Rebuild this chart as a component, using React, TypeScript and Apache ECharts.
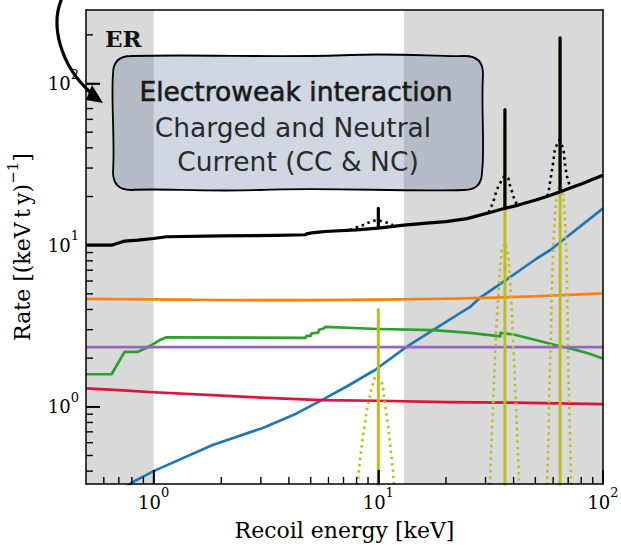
import React, { useEffect, useRef, useState } from "react";
import * as echarts from "echarts";

// ---- axes ----
const X_MIN = 0.5;
const X_MAX = 100;
const Y_MIN = 0.333;
const Y_MAX = 285;
const majorTicks = [1, 10, 100];
const xMinorTicks = [0.6, 0.7, 0.8, 0.9, 2, 3, 4, 5, 6, 7, 8, 9, 20, 30, 40, 50, 60, 70, 80, 90];
const yMinorTicks = [0.4, 0.5, 0.6, 0.7, 0.8, 0.9, 2, 3, 4, 5, 6, 7, 8, 9, 20, 30, 40, 50, 60, 70, 80, 90, 200];
const shadedBands: [number, number][] = [
  [0.5, 1],
  [13, 100],
];

// ---- ER background components: [recoil energy keV, rate /(keV t y)] ----
const twoNuBB: [number, number][] = [
  [0.72, 0.3], [0.8, 0.34], [1.0, 0.4], [1.83, 0.58], [3.06, 0.74], [4.33, 0.91], [5.6, 1.1],
  [7.4, 1.36], [9.66, 1.69], [13.3, 2.34], [17.5, 2.98], [25.6, 4.15], [28.2, 4.7], [36, 5.93],
  [50.7, 8.27], [58.1, 9.3], [100, 16.9],
];
const radonLead: [number, number][] = [
  [0.5, 4.65], [1, 4.62], [2, 4.58], [5, 4.57], [10, 4.6], [20, 4.66], [30, 4.72], [50, 4.83],
  [70, 4.92], [100, 5.03],
];
const solarNu: [number, number][] = [
  [0.5, 1.59], [0.65, 1.59], [0.743, 2.19], [0.851, 2.19], [0.93, 2.32], [1.0, 2.45], [1.06, 2.58],
  [1.14, 2.69], [4.73, 2.67], [4.8, 2.75], [5.0, 2.75], [5.05, 2.85], [5.4, 2.88], [5.45, 3.0],
  [5.7, 3.05], [5.8, 3.12], [10, 3.03], [17.5, 2.98], [25.6, 2.87], [34.9, 2.73], [35.0, 2.87],
  [40, 2.8], [50.7, 2.58], [64.4, 2.37], [71.3, 2.3], [85, 2.15], [100, 1.99],
];
const krypton: [number, number][] = [
  [0.5, 2.34], [100, 2.34],
];
const materials: [number, number][] = [
  [0.5, 1.3], [0.7, 1.27], [1, 1.23], [1.83, 1.18], [3, 1.14], [5.6, 1.1], [10, 1.09], [20, 1.07],
  [40, 1.06], [100, 1.04],
];
// 124Xe double electron capture lines (LL, KL, KK)
const ececLines: [number, number][] = [
  [10, 0.01], [10, 4.0], [10, 0.01], [36.6, 0.01], [36.6, 52], [36.6, 0.01],
  [64.4, 0.01], [64.4, 171], [64.4, 0.01],
];
const ececSmearedLL: [number, number][] = [
  [7.95, 0.3], [8.1, 0.344], [8.22, 0.426], [8.38, 0.527], [8.53, 0.652], [8.73, 0.808],
  [8.92, 0.977], [9.13, 1.127], [9.29, 1.268], [9.61, 1.5], [10, 1.55], [10.47, 1.36],
  [10.64, 1.1], [11.02, 0.793], [11.32, 0.566], [11.61, 0.406], [11.8, 0.3],
];
const ececSmearedKL: [number, number][] = [
  [31.2, 0.3], [31.4, 0.352], [31.9, 0.596], [32.5, 1.1], [33.0, 1.945], [33.6, 3.29], [34.2, 4.79],
  [34.8, 7.0], [35.4, 9.3], [36.6, 10.3], [37.9, 8.67], [38.5, 6.37], [39.2, 4.15], [39.8, 2.48],
  [40.6, 1.4], [41.3, 0.79], [42.0, 0.449], [42.4, 0.3],
];
const ececSmearedKK: [number, number][] = [
  [56.2, 0.3], [56.5, 0.352], [57.1, 0.594], [57.5, 1.05], [58.1, 1.77], [58.7, 2.98], [59.1, 4.79],
  [59.7, 7.33], [60.5, 12], [61.4, 17], [62.6, 21.5], [64.4, 23.5], [66.2, 21.5], [67.3, 17],
  [68.2, 12], [68.9, 7.3], [69.3, 4.8], [69.6, 3.28], [70.0, 1.94], [70.6, 1.15], [71.3, 0.65],
  [72.0, 0.37], [72.3, 0.3],
];
const total: [number, number][] = [
  [0.5, 10.0], [0.65, 10.0], [0.743, 10.6], [0.851, 10.75], [1.0, 11.0], [1.14, 11.27], [2.0, 11.4],
  [3.5, 11.5], [4.73, 11.6], [4.85, 11.8], [5.05, 11.9], [5.45, 12.05], [5.8, 12.15], [8.0, 12.45],
  [10, 12.75], [10, 16.9], [10, 12.75], [13, 13.3], [16.4, 13.7], [20, 14.0], [24.8, 14.6],
  [32.3, 16.1], [36.6, 16.9], [36.6, 69], [36.6, 16.9], [42, 17.7], [50.7, 19.1], [58, 20.3],
  [64.4, 21.4], [64.4, 192], [64.4, 21.4], [80, 23.9], [100, 27.1],
];
const totalSmearedLL: [number, number][] = [
  [7.47, 12.4], [8.13, 13.0], [8.7, 13.4], [9.34, 14.1], [10, 14.3], [10.3, 14.1], [10.87, 13.8],
  [11.63, 13.3],
];
const totalSmearedKL: [number, number][] = [
  [31.0, 15.9], [32.5, 18.5], [33.6, 21.9], [34.8, 24.1], [36.1, 26.4], [36.6, 26.8], [37.9, 25.9],
  [38.5, 23.5], [39.6, 20.9], [40.6, 18.5], [42.0, 17.7],
];
const totalSmearedKK: [number, number][] = [
  [56.5, 20.1], [57.1, 20.9], [59.1, 28.4], [60.1, 32.7], [61.1, 39.6], [64.0, 44.6], [66.6, 39.6],
  [67.7, 32.0], [68.9, 27.1], [71.3, 22.9], [72.5, 22.6],
];

const SERIF = "DejaVu Serif";
const SANS = "DejaVu Sans";

const GRID = { left: 86, top: 10, width: 517, height: 474 };

// hand-drawn looking rounded box behind the annotation
const CALLOUT_PATH =
  "M 131 56 C 200 54 280 58 350 55 C 400 53 440 57 465 56 Q 483 56 483 74 " +
  "C 481 110 485 150 482 172 Q 482 190 464 190 C 400 192 330 187 260 190 " +
  "C 200 192 160 188 131 190 Q 113 190 113 172 C 115 140 111 100 113 74 Q 113 56 131 56 Z";
echarts.graphic.registerShape("callout", echarts.graphic.extendPath(CALLOUT_PATH, {}));

const DOTS = [2.5, 3.8];

function line(
  name: string,
  data: [number, number][],
  color: string,
  width: number,
  z: number,
  dashed = false
) {
  return {
    type: "line",
    name,
    data,
    symbol: "none",
    showSymbol: false,
    clip: true,
    silent: true,
    z,
    lineStyle: { color, width, type: dashed ? DOTS : "solid", cap: "butt", join: "round" },
  };
}

function powerLabel(v: number) {
  return `{b|10}{s|${Math.round(Math.log10(v))}}`;
}

const labelRich = {
  b: { fontFamily: SERIF, fontSize: 18, lineHeight: 32, color: "#000" },
  s: { fontFamily: SERIF, fontSize: 13, lineHeight: 13, verticalAlign: "top", color: "#000" },
};

const annotations: any[] = [
  {
    type: "text",
    z: 100,
    style: {
      text: "ER",
      x: 105,
      y: 38,
      textVerticalAlign: "middle",
      fontFamily: SERIF,
      fontWeight: "bold",
      fontSize: 23,
      fill: "#111",
    },
  },
  {
    type: "callout",
    z: 100,
    x: 0,
    y: 0,
    style: { fill: "rgba(100,120,160,0.3)", stroke: "#000", lineWidth: 1.8 },
  },
  {
    type: "text",
    z: 101,
    style: {
      text: "Electroweak interaction",
      x: 296,
      y: 91,
      textAlign: "center",
      textVerticalAlign: "middle",
      fontFamily: SANS,
      fontSize: 26.5,
      fill: "#1a1a1a",
      stroke: "#1a1a1a",
      lineWidth: 0.6,
    },
  },
  {
    type: "text",
    z: 101,
    style: {
      text: "Charged and Neutral",
      x: 293,
      y: 127,
      textAlign: "center",
      textVerticalAlign: "middle",
      fontFamily: SANS,
      fontSize: 26.5,
      fill: "#2a2a2a",
    },
  },
  {
    type: "text",
    z: 101,
    style: {
      text: "Current (CC & NC)",
      x: 298,
      y: 161,
      textAlign: "center",
      textVerticalAlign: "middle",
      fontFamily: SANS,
      fontSize: 26.5,
      fill: "#2a2a2a",
    },
  },
  {
    type: "bezierCurve",
    z: 102,
    shape: { x1: 62, y1: -2, cpx1: 50, cpy1: 25, cpx2: 60, cpy2: 65, x2: 91, y2: 93 },
    style: { stroke: "#000", lineWidth: 3.2, fill: null },
  },
  {
    type: "polygon",
    z: 102,
    shape: { points: [[92, 85], [86, 100], [103, 103]] },
    style: { fill: "#000" },
  },
];

function buildOption() {
  const frameLine = () => ({ show: true, lineStyle: { color: "#000", width: 1.5 } });
  const hidden = () => ({ show: false });
  const logAxis = (min: number, max: number) => ({ type: "log", logBase: 10, min, max, z: 10 });

  return {
    animation: false,
    grid: { ...GRID, containLabel: false, outerBoundsMode: "none" },
    xAxis: [
      {
        ...logAxis(X_MIN, X_MAX),
        position: "bottom",
        axisLine: frameLine(),
        axisTick: {
          show: true,
          inside: true,
          length: 14,
          customValues: [...majorTicks],
          lineStyle: { color: "#000", width: 1.6 },
        },
        axisLabel: { customValues: [...majorTicks], formatter: powerLabel, rich: labelRich, margin: 2 },
        splitLine: hidden(),
        name: "Recoil energy [keV]",
        nameLocation: "middle",
        nameGap: 35,
        nameTextStyle: { fontFamily: SERIF, fontSize: 22, color: "#000" },
      },
      {
        ...logAxis(X_MIN, X_MAX),
        position: "top",
        axisLine: frameLine(),
        axisTick: hidden(),
        axisLabel: hidden(),
        splitLine: hidden(),
      },
    ],
    yAxis: [
      {
        ...logAxis(Y_MIN, Y_MAX),
        position: "left",
        axisLine: frameLine(),
        axisTick: {
          show: true,
          inside: true,
          length: 14,
          customValues: [...majorTicks],
          lineStyle: { color: "#000", width: 1.6 },
        },
        axisLabel: { customValues: [...majorTicks], formatter: powerLabel, rich: labelRich, margin: 7 },
        splitLine: hidden(),
        name: "{a|Rate [(keV\u2009t\u2009y)}{s|\u22121}{a|]}",
        nameLocation: "middle",
        nameGap: 47,
        nameRotate: 90,
        nameTextStyle: {
          rich: {
            a: { fontFamily: SERIF, fontSize: 22, lineHeight: 34, color: "#000" },
            s: { fontFamily: SERIF, fontSize: 15, lineHeight: 15, verticalAlign: "top", color: "#000" },
          },
        },
      },
      {
        ...logAxis(Y_MIN, Y_MAX),
        position: "right",
        axisLine: frameLine(),
        axisTick: hidden(),
        axisLabel: hidden(),
        splitLine: hidden(),
      },
    ],
    series: [
      {
        type: "line",
        name: "bands",
        data: [],
        z: 1,
        silent: true,
        markArea: {
          silent: true,
          itemStyle: { color: "#d9d9d9" },
          data: shadedBands.map(([a, b]) => [{ xAxis: a }, { xAxis: b }]),
        },
      },
      line("136Xe 2vbb", twoNuBB, "#1f77b4", 2.7, 3),
      line("214Pb", radonLead, "#ff7f0e", 2.7, 3),
      line("solar nu", solarNu, "#2ca02c", 2.7, 3),
      line("85Kr", krypton, "#9467bd", 2.7, 3),
      line("materials", materials, "#dc143c", 2.7, 3),
      line("124Xe LL smeared", ececSmearedLL, "#bcbd22", 2.6, 4, true),
      line("124Xe KL smeared", ececSmearedKL, "#bcbd22", 2.6, 4, true),
      line("124Xe KK smeared", ececSmearedKK, "#bcbd22", 2.6, 4, true),
      line("124Xe 2vECEC", ececLines, "#bcbd22", 3, 5),
      line("total LL smeared", totalSmearedLL, "#000", 2.6, 6, true),
      line("total KL smeared", totalSmearedKL, "#000", 2.6, 6, true),
      line("total KK smeared", totalSmearedKK, "#000", 2.6, 6, true),
      line("total", total, "#000", 3.2, 7),
    ],
    graphic: annotations,
  };
}

type Tick = { x1: number; y1: number; x2: number; y2: number; w: number };

// inward tick marks, positioned through the chart's log axes
function tickMarks(chart: echarts.ECharts): Tick[] {
  const out: Tick[] = [];
  const toPx = (pt: [number, number]): number[] | null => {
    const p = chart.convertToPixel({ gridIndex: 0 } as any, pt) as any;
    if (p && isFinite(p[0]) && isFinite(p[1])) return p;
    return null;
  };
  const add = (values: number[], along: "x" | "y", len: number, w: number) => {
    values.forEach((v) => {
      const p = toPx(along === "x" ? [v, Y_MIN] : [X_MIN, v]);
      if (!p) return;
      out.push(
        along === "x"
          ? { x1: p[0], y1: p[1], x2: p[0], y2: p[1] - len, w }
          : { x1: p[0], y1: p[1], x2: p[0] + len, y2: p[1], w }
      );
    });
  };
  add(majorTicks, "x", 14, 1.6);
  add(xMinorTicks, "x", 7, 1.4);
  add(majorTicks, "y", 14, 1.6);
  add(yMinorTicks, "y", 7, 1.4);
  return out;
}

export default function App() {
  const ref = useRef<HTMLDivElement>(null);
  const [ticks, setTicks] = useState<Tick[]>([]);
  useEffect(() => {
    if (!ref.current) return;
    const chart = echarts.init(ref.current, undefined, { renderer: "svg" });
    chart.setOption(buildOption() as any);
    try {
      setTicks(tickMarks(chart));
    } catch (e) {
      setTicks([]);
    }
    return () => chart.dispose();
  }, []);
  return (
    <div style={{ position: "absolute", left: 0, top: 0, width: 621, height: 545, background: "#fff" }}>
      <div ref={ref} style={{ position: "absolute", left: 0, top: 0, width: 621, height: 545 }} />
      <svg
        width={621}
        height={545}
        style={{ position: "absolute", left: 0, top: 0, pointerEvents: "none", zIndex: 5 }}
      >
        {ticks.map((t, i) => (
          <line key={i} x1={t.x1} y1={t.y1} x2={t.x2} y2={t.y2} stroke="#000" strokeWidth={t.w} />
        ))}
      </svg>
    </div>
  );
}
